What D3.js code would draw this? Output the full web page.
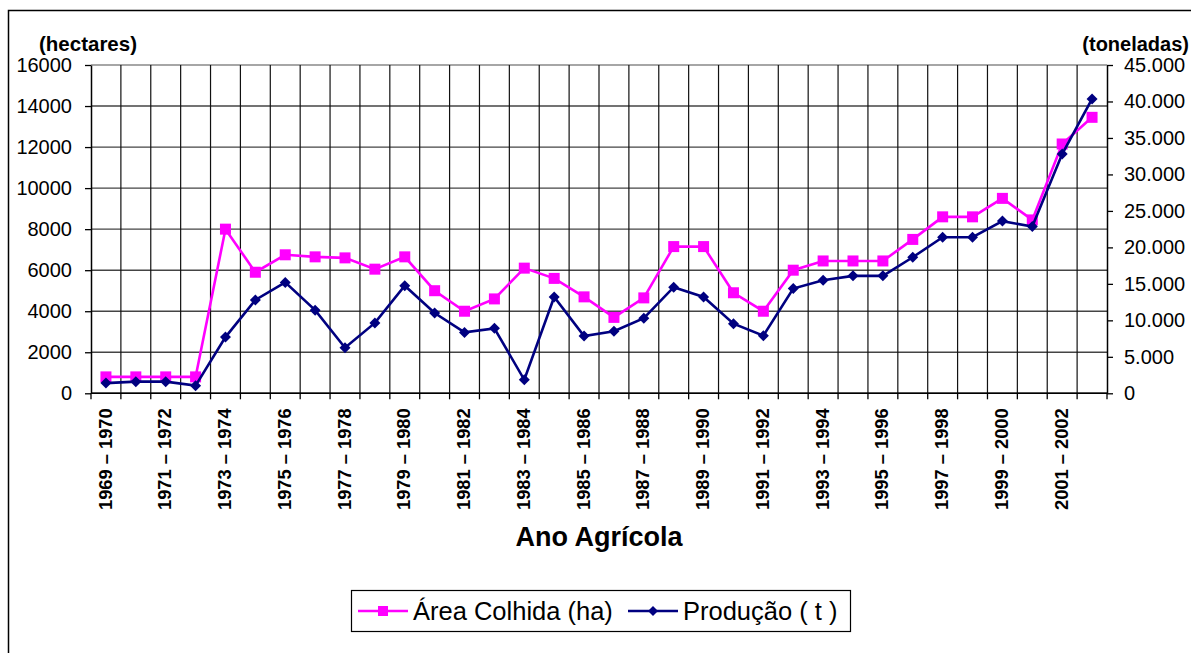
<!DOCTYPE html>
<html>
<head>
<meta charset="utf-8">
<script src="https://cdn.jsdelivr.net/npm/d3@7"></script>
<style>
  html, body { margin: 0; padding: 0; background: #fff; }
  svg { display: block; font-family: "Liberation Sans", Arial, sans-serif; }
</style>
</head>
<body>
<svg id="chart" width="1191" height="653"></svg>
<script>
// Agricultural years (harvest seasons)
const categories = [
  "1969 – 1970", "1970 – 1971", "1971 – 1972", "1972 – 1973", "1973 – 1974",
  "1974 – 1975", "1975 – 1976", "1976 – 1977", "1977 – 1978", "1978 – 1979",
  "1979 – 1980", "1980 – 1981", "1981 – 1982", "1982 – 1983", "1983 – 1984",
  "1984 – 1985", "1985 – 1986", "1986 – 1987", "1987 – 1988", "1988 – 1989",
  "1989 – 1990", "1990 – 1991", "1991 – 1992", "1992 – 1993", "1993 – 1994",
  "1994 – 1995", "1995 – 1996", "1996 – 1997", "1997 – 1998", "1998 – 1999",
  "1999 – 2000", "2000 – 2001", "2001 – 2002", "2002 – 2003"
];

// Harvested area (hectares) – left axis
const areaColhida = [
  800, 800, 800, 800, 8000, 5900, 6750, 6650, 6600, 6050,
  6650, 5000, 4000, 4600, 6100, 5600, 4700, 3700, 4650, 7150,
  7150, 4900, 4000, 6000, 6450, 6450, 6450, 7500, 8600, 8600,
  9500, 8450, 12150, 13450
];

// Production (tonnes) – right axis
const producao = [
  1400, 1600, 1600, 1050, 7700, 12800, 15200, 11400, 6250, 9650,
  14750, 11000, 8350, 8900, 1850, 13200, 7850, 8500, 10300, 14550,
  13200, 9550, 7900, 14350, 15500, 16100, 16100, 18650, 21400, 21400,
  23600, 22850, 32800, 40350
];

const leftTicks = [0, 2000, 4000, 6000, 8000, 10000, 12000, 14000, 16000];
const rightTicks = [0, 5000, 10000, 15000, 20000, 25000, 30000, 35000, 40000, 45000];

const seriesNames = ["Área Colhida (ha)", "Produção ( t )"];
const axisTitles = { left: "(hectares)", right: "(toneladas)", x: "Ano Agrícola" };

const pink = "#FF00FF";
const navy = "#000080";

const svg = d3.select("#chart");
const plot = { left: 91, right: 1107, top: 65, bottom: 393.3 };

// Outer chart frame
svg.append("rect")
  .attr("x", 8.5).attr("y", 10.5)
  .attr("width", 1300).attr("height", 800)
  .attr("fill", "#fff")
  .attr("stroke", "#000").attr("stroke-width", 1.5);

const x = d3.scaleBand().domain(categories).range([plot.left, plot.right]).padding(0);
const xc = d => x(d) + x.bandwidth() / 2;
const yL = d3.scaleLinear().domain([0, 16000]).range([plot.bottom, plot.top]);
const yR = d3.scaleLinear().domain([0, 45000]).range([plot.bottom, plot.top]);

// Gridlines
const grid = svg.append("g");
grid.selectAll("line.h").data(leftTicks).join("line")
  .attr("x1", plot.left).attr("x2", plot.right)
  .attr("y1", d => yL(d)).attr("y2", d => yL(d))
  .attr("stroke", d => d === 16000 ? "#888" : "#444").attr("stroke-width", 1.4);
grid.selectAll("line.v").data(categories.slice(1)).join("line")
  .attr("x1", d => x(d)).attr("x2", d => x(d))
  .attr("y1", plot.top).attr("y2", plot.bottom)
  .attr("stroke", "#111").attr("stroke-width", 1.2);

// Left axis
const leftAxis = svg.append("g")
  .attr("transform", `translate(${plot.left},0)`)
  .call(d3.axisLeft(yL).tickValues(leftTicks).tickSize(6).tickSizeOuter(0).tickFormat(d3.format("d")));
leftAxis.select(".domain").attr("stroke", "#000").attr("stroke-width", 1.5);
leftAxis.selectAll(".tick line").attr("stroke", "#000").attr("stroke-width", 1.3);
leftAxis.selectAll(".tick text")
  .attr("x", -19).attr("font-size", 20).attr("fill", "#000")
  .style("font-family", "Liberation Sans, Arial, sans-serif");

// Right axis
const fmtRight = d => d === 0 ? "0" : d3.format(",")(d).replace(/,/g, ".");
const rightAxis = svg.append("g")
  .attr("transform", `translate(${plot.right},0)`)
  .call(d3.axisRight(yR).tickValues(rightTicks).tickSize(6).tickSizeOuter(0).tickFormat(fmtRight));
rightAxis.select(".domain").attr("stroke", "#000").attr("stroke-width", 1.5);
rightAxis.selectAll(".tick line").attr("stroke", "#000").attr("stroke-width", 1.3);
rightAxis.selectAll(".tick text")
  .attr("x", 17).attr("font-size", 20).attr("fill", "#000")
  .style("font-family", "Liberation Sans, Arial, sans-serif");

// Bottom axis with ticks at category boundaries
const bottom = svg.append("g");
bottom.append("line")
  .attr("x1", plot.left).attr("x2", plot.right)
  .attr("y1", plot.bottom).attr("y2", plot.bottom)
  .attr("stroke", "#000").attr("stroke-width", 1.5);
bottom.selectAll("line.tick").data(categories).join("line")
  .attr("x1", d => x(d)).attr("x2", d => x(d))
  .attr("y1", plot.bottom).attr("y2", plot.bottom + 6)
  .attr("stroke", "#000").attr("stroke-width", 1.3);
bottom.append("line")
  .attr("x1", plot.right).attr("x2", plot.right)
  .attr("y1", plot.bottom).attr("y2", plot.bottom + 6)
  .attr("stroke", "#000").attr("stroke-width", 1.3);
bottom.selectAll("text").data(categories.filter((d, i) => i % 2 === 0)).join("text")
  .attr("transform", d => `translate(${xc(d) - 1},${plot.bottom + 15}) rotate(-90)`)
  .attr("text-anchor", "end").attr("dy", "0.36em")
  .attr("font-size", 18.3).attr("font-weight", "bold").attr("fill", "#000")
  .text(d => d);

// Axis titles
svg.append("text").attr("x", 88).attr("y", 51)
  .attr("text-anchor", "middle").attr("font-size", 20.5).attr("font-weight", "bold")
  .text(axisTitles.left);
svg.append("text").attr("x", 1189).attr("y", 51)
  .attr("text-anchor", "end").attr("font-size", 20).attr("font-weight", "bold")
  .text(axisTitles.right);
svg.append("text").attr("x", 599).attr("y", 546)
  .attr("text-anchor", "middle").attr("font-size", 27).attr("font-weight", "bold")
  .text(axisTitles.x);

// Series
const lineL = d3.line().x((d, i) => xc(categories[i])).y(d => yL(d));
const lineR = d3.line().x((d, i) => xc(categories[i])).y(d => yR(d));

svg.append("path").datum(areaColhida)
  .attr("d", lineL).attr("fill", "none").attr("stroke", pink).attr("stroke-width", 2.6);
svg.append("g").selectAll("rect").data(areaColhida).join("rect")
  .attr("x", (d, i) => xc(categories[i]) - 5.5).attr("y", d => yL(d) - 5.5)
  .attr("width", 11).attr("height", 11).attr("fill", pink);

svg.append("path").datum(producao)
  .attr("d", lineR).attr("fill", "none").attr("stroke", navy).attr("stroke-width", 2.6);
const diamond = s => `M0,${-s}L${s},0L0,${s}L${-s},0Z`;
svg.append("g").selectAll("path").data(producao).join("path")
  .attr("transform", (d, i) => `translate(${xc(categories[i])},${yR(d)})`)
  .attr("d", diamond(5.5)).attr("fill", navy);

// Legend
const lg = svg.append("g");
lg.append("rect").attr("x", 351.5).attr("y", 590.5).attr("width", 499).attr("height", 41)
  .attr("fill", "#fff").attr("stroke", "#000").attr("stroke-width", 1.2);
const legendItems = [
  { name: seriesNames[0], color: pink, x0: 358, tx: 413, marker: "square" },
  { name: seriesNames[1], color: navy, x0: 628, tx: 683, marker: "diamond" }
];
legendItems.forEach(it => {
  lg.append("line").attr("x1", it.x0).attr("x2", it.x0 + 50)
    .attr("y1", 611).attr("y2", 611).attr("stroke", it.color).attr("stroke-width", 2.6);
  if (it.marker === "square") {
    lg.append("rect").attr("x", it.x0 + 25 - 5).attr("y", 606).attr("width", 10).attr("height", 10).attr("fill", it.color);
  } else {
    lg.append("path").attr("transform", `translate(${it.x0 + 25},611)`).attr("d", diamond(5)).attr("fill", it.color);
  }
  lg.append("text").attr("x", it.tx).attr("y", 620)
    .attr("font-size", 25.5).attr("fill", "#000").text(it.name);
});
</script>
</body>
</html>
